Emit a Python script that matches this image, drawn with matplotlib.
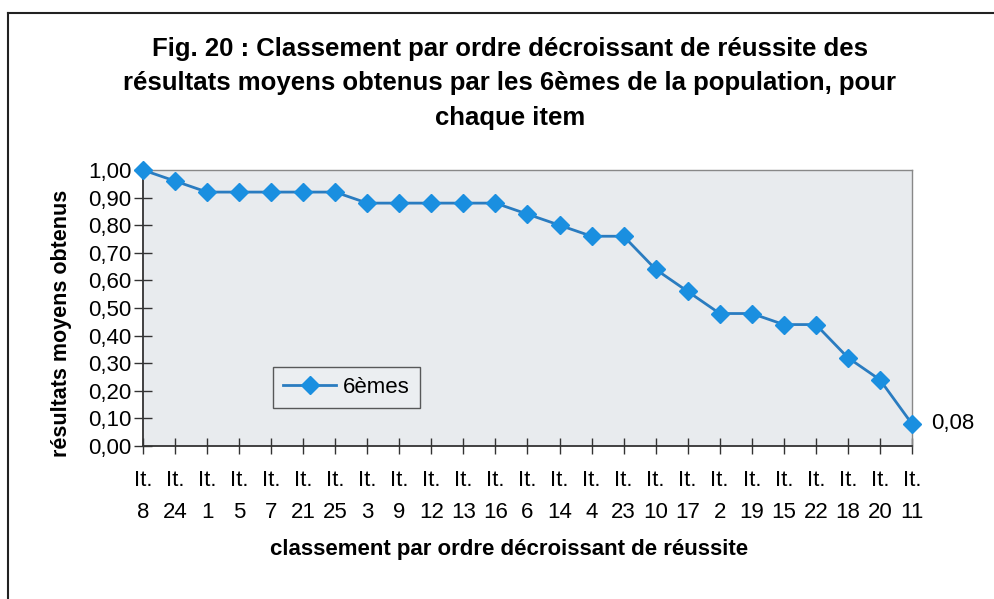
import matplotlib
matplotlib.use("Agg")
import matplotlib.pyplot as plt
from matplotlib.lines import Line2D

items = ["8", "24", "1", "5", "7", "21", "25", "3", "9", "12", "13", "16", "6",
         "14", "4", "23", "10", "17", "2", "19", "15", "22", "18", "20", "11"]
values = [1.00, 0.96, 0.92, 0.92, 0.92, 0.92, 0.92, 0.88, 0.88, 0.88, 0.88, 0.88, 0.84,
          0.80, 0.76, 0.76, 0.64, 0.56, 0.48, 0.48, 0.44, 0.44, 0.32, 0.24, 0.08]
yticks = [0.0, 0.1, 0.2, 0.3, 0.4, 0.5, 0.6, 0.7, 0.8, 0.9, 1.0]

plt.rcParams['font.family'] = ['Liberation Sans', 'DejaVu Sans']

fig = plt.figure(figsize=(9.95, 5.99), dpi=100)
W, H = 995, 599
L, R, T, B = 143, 912, 170, 446
ax = fig.add_axes([L / W, 1 - B / H, (R - L) / W, (B - T) / H])
ax.set_facecolor('#e8ebee')

FS = 16
x = list(range(len(items)))
ax.plot(x, values, color='#2a7cc0', lw=2, marker='D', ms=9,
        markerfacecolor='#1a8fe0', markeredgecolor='#1a8fe0', clip_on=False, zorder=5,
        label='6èmes')

ax.set_xlim(0, len(items) - 1)
ax.set_ylim(0, 1.0)
ax.set_yticks(yticks)
ax.set_yticklabels([f"{v:.2f}".replace('.', ',') for v in yticks], fontsize=FS)
ax.set_xticks(x)
ax.set_xticklabels([f"It.\n{i}" for i in items], fontsize=FS, linespacing=1.65)
ax.tick_params(axis='y', direction='inout', length=13, width=1, color='#333333', pad=2)
ax.tick_params(axis='x', direction='inout', length=11, width=1, color='#333333', pad=12)

for s in ['left', 'bottom']:
    ax.spines[s].set_color('#333333')
    ax.spines[s].set_linewidth(1.3)
for s in ['top', 'right']:
    ax.spines[s].set_color('#888888')
    ax.spines[s].set_linestyle((0, (2, 1)))
    ax.spines[s].set_linewidth(1)

ax.set_ylabel('résultats moyens obtenus', fontsize=15.5, fontweight='bold')
ax.yaxis.set_label_coords((62 - L) / (R - L), (B - 323) / (B - T))
ax.yaxis.label.set_va('center')
ax.set_xlabel('classement par ordre décroissant de réussite', fontsize=16,
              fontweight='bold')
ax.xaxis.set_label_coords((509 - L) / (R - L), (B - 550) / (B - T))
ax.xaxis.label.set_va('center')

ax.annotate(f"{values[-1]:.2f}".replace('.', ','), (x[-1], values[-1]),
            xytext=(14, 0), textcoords='offset points', va='center', ha='left',
            fontsize=FS)

leg = ax.legend(loc='upper left', bbox_to_anchor=((273 - L) / (R - L), 1 - (367 - T) / (B - T)),
                fontsize=FS, frameon=True, fancybox=False, handlelength=2.4,
                borderpad=0.45, handletextpad=0.3, borderaxespad=0)
leg.get_frame().set_edgecolor('#333333')
leg.get_frame().set_facecolor('#eceff2')
leg.get_frame().set_linewidth(1)

title = ("Fig. 20 : Classement par ordre décroissant de réussite des\n"
         "résultats moyens obtenus par les 6èmes de la population, pour\n"
         "chaque item")
fig.text(510 / W, 1 - 37 / H, title, ha='center', va='top', fontsize=18.5,
         fontweight='bold', linespacing=1.54)

fig.add_artist(Line2D([8 / W, 8 / W], [0, 1 - 13 / H], transform=fig.transFigure,
                      color='#222222', lw=1.5))
fig.add_artist(Line2D([8 / W, 1], [1 - 13 / H, 1 - 13 / H], transform=fig.transFigure,
                      color='#222222', lw=1.5))

fig.savefig('out.png', dpi=100)
